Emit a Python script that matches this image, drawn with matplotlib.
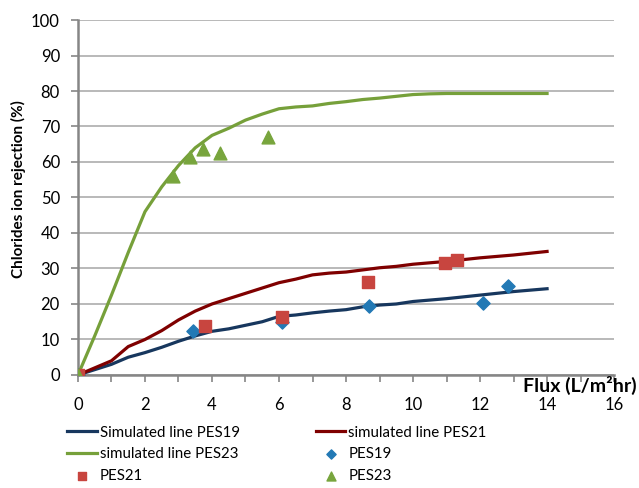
import matplotlib
matplotlib.use("Agg")
import matplotlib.pyplot as plt
from matplotlib.ticker import MultipleLocator

plt.rcParams['font.family'] = ['Lato', 'DejaVu Sans']

# Simulated lines
sim_x = [0, 0.5, 1, 1.5, 2, 2.5, 3, 3.5, 4, 4.5, 5, 5.5, 6, 6.5, 7, 7.5, 8, 8.5, 9, 9.5, 10, 10.5, 11, 12, 13, 14]
sim_pes19 = [0, 1.5, 3, 5, 6.3, 7.8, 9.5, 11, 12.3, 13, 14, 15, 16.5, 16.9, 17.5, 18, 18.4, 19.2, 19.7, 20, 20.7, 21.1, 21.5, 22.5, 23.5, 24.3]
sim_pes21 = [0, 2, 4, 8, 10, 12.5, 15.5, 18, 20, 21.5, 23, 24.5, 26, 27, 28.2, 28.7, 29, 29.6, 30.2, 30.6, 31.2, 31.6, 32, 33, 33.8, 34.8]
sim_pes23 = [0, 11, 22.5, 34.5, 46, 53, 59, 64, 67.5, 69.5, 71.8, 73.5, 75, 75.5, 75.8, 76.5, 77, 77.6, 78, 78.5, 79, 79.2, 79.3, 79.3, 79.3, 79.3]

# Measured points
pes19_x = [0, 3.43, 6.1, 8.7, 12.1, 12.84]
pes19_y = [0, 12.4, 15.0, 19.4, 20.3, 25.0]
pes21_x = [0, 3.8, 6.1, 8.66, 10.96, 11.3]
pes21_y = [0, 13.8, 16.3, 26.2, 31.5, 32.4]
pes23_x = [0, 2.84, 3.34, 3.73, 4.24, 5.67]
pes23_y = [0, 56, 61.4, 63.7, 62.5, 67]

fig = plt.figure(figsize=(6.39, 4.88), dpi=100)
ax = fig.add_axes([0.122, 0.2316, 0.839, 0.7274])

l19, = ax.plot(sim_x, sim_pes19, color='#17375E', lw=2.3, label='Simulated line PES19', zorder=3)
l21, = ax.plot(sim_x, sim_pes21, color='#7F0000', lw=2.3, label='simulated line PES21', zorder=3)
l23, = ax.plot(sim_x, sim_pes23, color='#76A03A', lw=2.3, label='simulated line PES23', zorder=3)
s19 = ax.scatter(pes19_x, pes19_y, marker='D', s=45, color='#2279B5', label='PES19', zorder=4)
s21 = ax.scatter(pes21_x, pes21_y, marker='s', s=80, color='#C8453F', label='PES21', zorder=4)
s23 = ax.scatter(pes23_x, pes23_y, marker='^', s=85, color='#78A53D', label='PES23', zorder=5)

ax.set_xlim(0, 16)
ax.set_ylim(0, 100)
ax.xaxis.set_major_locator(MultipleLocator(2))
ax.xaxis.set_minor_locator(MultipleLocator(1))
ax.yaxis.set_major_locator(MultipleLocator(10))
ax.grid(axis='y', color='#A6A6A6', lw=1.1)
ax.set_axisbelow(True)
for s in ['top', 'right']:
    ax.spines[s].set_visible(False)
for s in ['left', 'bottom']:
    ax.spines[s].set_color('#868686')
    ax.spines[s].set_linewidth(1.8)
ax.tick_params(axis='both', which='both', color='#868686', width=1.2, labelsize=12)
ax.tick_params(axis='x', which='major', length=5, pad=11)
ax.tick_params(axis='x', which='minor', length=5)
ax.tick_params(axis='y', length=5, pad=8)

fig.text(18 / 639, 1 - 189 / 488, 'Chlorides ion rejection (%)', rotation=90,
         ha='center', va='center', fontsize=11, fontweight='bold')
fig.text(0.997, 1 - 385 / 488, 'Flux (L/m\u00b2hr)', ha='right', va='center', fontsize=14, fontweight='bold')

handles = [l19, l23, s21, l21, s19, s23]
labels = [h.get_label() for h in handles]
fig.legend(handles, labels, ncol=2, loc='upper left', bbox_to_anchor=(0.096, 0.14),
           frameon=False, fontsize=10.8, handlelength=1.95, handletextpad=0.2,
           columnspacing=5.1, labelspacing=0.5, borderaxespad=0, markerscale=0.7)

fig.savefig('out.png', dpi=100)
